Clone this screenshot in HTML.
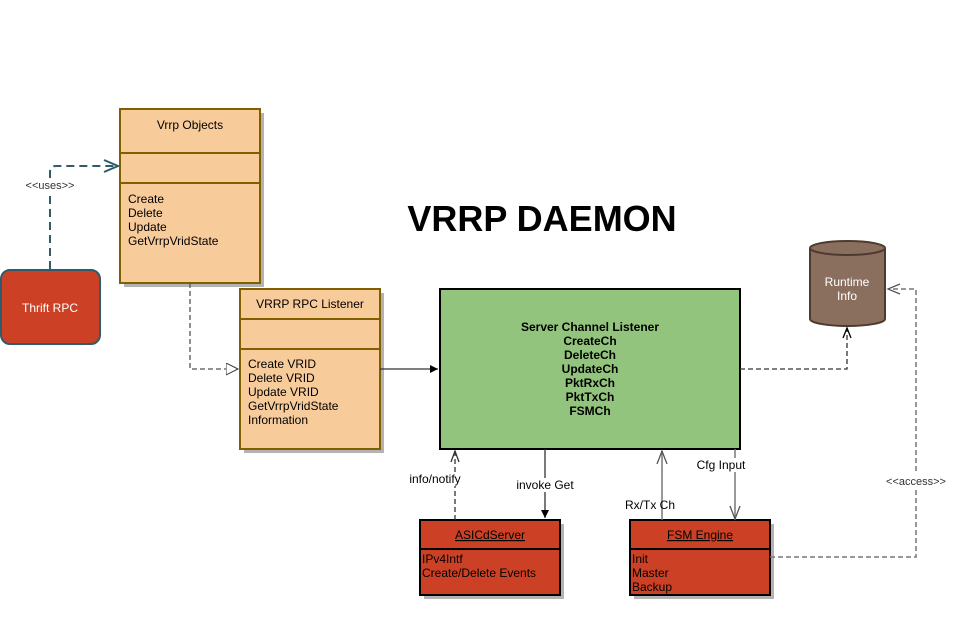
<!DOCTYPE html>
<html><head><meta charset="utf-8"><style>body{margin:0;background:#fff}svg{display:block;font-family:"Liberation Sans",sans-serif}</style></head><body>
<svg width="971" height="618" viewBox="0 0 971 618" xmlns="http://www.w3.org/2000/svg">
<defs>
<marker id="tri" markerWidth="14" markerHeight="14" refX="12" refY="6" orient="auto" markerUnits="userSpaceOnUse"><path d="M0,0 L12,6 L0,12 Z" fill="#fff" stroke="#333"/></marker>
<marker id="fill" markerWidth="10" markerHeight="10" refX="8" refY="4" orient="auto" markerUnits="userSpaceOnUse"><path d="M0,0 L8,4 L0,8 Z" fill="#000"/></marker>
</defs>
<!-- shadows -->
<rect x="124" y="113" width="140" height="174" fill="#b3b3b3"/>
<rect x="244" y="293" width="140" height="160" fill="#b3b3b3"/>
<rect x="424" y="524" width="140" height="75" fill="#b3b3b3"/>
<rect x="634" y="524" width="140" height="75" fill="#b3b3b3"/>
<!-- Vrrp Objects -->
<rect x="120" y="109" width="140" height="174" fill="#f8cb9b" stroke="#7f5f00" stroke-width="2"/>
<line x1="120" y1="153" x2="260" y2="153" stroke="#7f5f00" stroke-width="2"/>
<line x1="120" y1="183" x2="260" y2="183" stroke="#7f5f00" stroke-width="2"/>
<text x="190" y="129" font-size="12" text-anchor="middle">Vrrp Objects</text>
<text font-size="12" x="128"><tspan x="128" y="203">Create</tspan><tspan x="128" y="217">Delete</tspan><tspan x="128" y="231">Update</tspan><tspan x="128" y="245">GetVrrpVridState</tspan></text>
<!-- RPC Listener -->
<rect x="240" y="289" width="140" height="160" fill="#f8cb9b" stroke="#7f5f00" stroke-width="2"/>
<line x1="240" y1="319" x2="380" y2="319" stroke="#7f5f00" stroke-width="2"/>
<line x1="240" y1="349" x2="380" y2="349" stroke="#7f5f00" stroke-width="2"/>
<text x="310" y="308" font-size="12" text-anchor="middle">VRRP RPC Listener</text>
<text font-size="12"><tspan x="248" y="368">Create VRID</tspan><tspan x="248" y="382">Delete VRID</tspan><tspan x="248" y="396">Update VRID</tspan><tspan x="248" y="410">GetVrrpVridState</tspan><tspan x="248" y="424">Information</tspan></text>
<!-- Thrift -->
<rect x="1" y="270" width="99" height="74" rx="9" fill="#cc4125" stroke="#2f5b6b" stroke-width="2"/>
<text x="50" y="312" font-size="12" fill="#fff" text-anchor="middle">Thrift RPC</text>
<path d="M50,269 V172 Q50,166 56,166 H118" fill="none" stroke="#2f5b6b" stroke-width="2" stroke-dasharray="8,5"/>
<path d="M104,160 L118,166 L104,172" fill="none" stroke="#2f5b6b" stroke-width="2"/>
<rect x="22" y="178" width="56" height="14" fill="#fff"/>
<text x="50" y="189" font-size="11" text-anchor="middle" fill="#333">&lt;&lt;uses&gt;&gt;</text>
<!-- dashed Vrrp->listener -->
<path d="M190,283 V369 H238" fill="none" stroke="#555" stroke-width="1.3" stroke-dasharray="5,3" marker-end="url(#tri)"/>
<!-- listener -> green -->
<line x1="380" y1="369" x2="438" y2="369" stroke="#333" stroke-width="1.3" marker-end="url(#fill)"/>
<!-- title -->
<text x="542" y="231" font-size="36" font-weight="bold" text-anchor="middle">VRRP DAEMON</text>
<!-- green -->
<rect x="440" y="289" width="300" height="160" fill="#93c47d" stroke="#000" stroke-width="2"/>
<text font-size="12" font-weight="bold" text-anchor="middle"><tspan x="590" y="331">Server Channel Listener</tspan><tspan x="590" y="345">CreateCh</tspan><tspan x="590" y="359">DeleteCh</tspan><tspan x="590" y="373">UpdateCh</tspan><tspan x="590" y="387">PktRxCh</tspan><tspan x="590" y="401">PktTxCh</tspan><tspan x="590" y="415">FSMCh</tspan></text>
<!-- cylinder -->
<path d="M810,248 V319 A37.5,7 0 0 0 885,319 V248" fill="#8b6f5e" stroke="#4d3b30" stroke-width="2"/>
<ellipse cx="847.5" cy="248" rx="37.5" ry="7" fill="#8b6f5e" stroke="#4d3b30" stroke-width="2"/>
<text font-size="12" fill="#fff" text-anchor="middle"><tspan x="847" y="286">Runtime</tspan><tspan x="847" y="300">Info</tspan></text>
<!-- green -> runtime -->
<path d="M740,369 H847 V328" fill="none" stroke="#333" stroke-width="1.3" stroke-dasharray="5,3"/>
<path d="M843,338 L847,328 L851,338" fill="none" stroke="#000" stroke-width="1.3"/>
<!-- ASICd -->
<rect x="420" y="520" width="140" height="75" fill="#cc4125" stroke="#000" stroke-width="2"/>
<line x1="420" y1="549" x2="560" y2="549" stroke="#000" stroke-width="2"/>
<text x="490" y="539" font-size="12" text-anchor="middle" text-decoration="underline">ASICdServer</text>
<text font-size="12"><tspan x="422" y="563">IPv4Intf</tspan><tspan x="422" y="577">Create/Delete Events</tspan></text>
<!-- FSM -->
<rect x="630" y="520" width="140" height="75" fill="#cc4125" stroke="#000" stroke-width="2"/>
<line x1="630" y1="549" x2="770" y2="549" stroke="#000" stroke-width="2"/>
<text x="700" y="539" font-size="12" text-anchor="middle" text-decoration="underline">FSM Engine</text>
<text font-size="12"><tspan x="632" y="563">Init</tspan><tspan x="632" y="577">Master</tspan><tspan x="632" y="591">Backup</tspan></text>
<!-- connectors bottom -->
<line x1="455" y1="520" x2="455" y2="451" stroke="#333" stroke-width="1.3" stroke-dasharray="5,3"/>
<path d="M451,462 L455,451 L459,462" fill="none" stroke="#333" stroke-width="1.3"/>
<rect x="408" y="472" width="56" height="14" fill="#fff"/>
<text x="435" y="483" font-size="12" text-anchor="middle">info/notify</text>
<line x1="545" y1="449" x2="545" y2="518" stroke="#333" stroke-width="1.3" marker-end="url(#fill)"/>
<rect x="514" y="478" width="62" height="14" fill="#fff"/>
<text x="545" y="489" font-size="12" text-anchor="middle">invoke Get</text>
<line x1="662" y1="520" x2="662" y2="451" stroke="#777" stroke-width="1.5"/>
<path d="M657,464 L662,451 L667,464" fill="none" stroke="#555" stroke-width="1.3"/>
<text x="650" y="509" font-size="12" text-anchor="middle">Rx/Tx Ch</text>
<line x1="735" y1="449" x2="735" y2="520" stroke="#777" stroke-width="1.5"/>
<path d="M730,506 L735,519 L740,506" fill="none" stroke="#555" stroke-width="1.3"/>
<rect x="695" y="458" width="52" height="14" fill="#fff"/>
<text x="721" y="469" font-size="12" text-anchor="middle">Cfg Input</text>
<path d="M770,557 H916 V289 H888" fill="none" stroke="#777" stroke-width="1.5" stroke-dasharray="5,3"/>
<path d="M900,284 L888,289 L900,294" fill="none" stroke="#555" stroke-width="1.3"/>
<rect x="882" y="473" width="68" height="14" fill="#fff"/>
<text x="916" y="485" font-size="11" text-anchor="middle" fill="#333">&lt;&lt;access&gt;&gt;</text>
</svg>
</body></html>
